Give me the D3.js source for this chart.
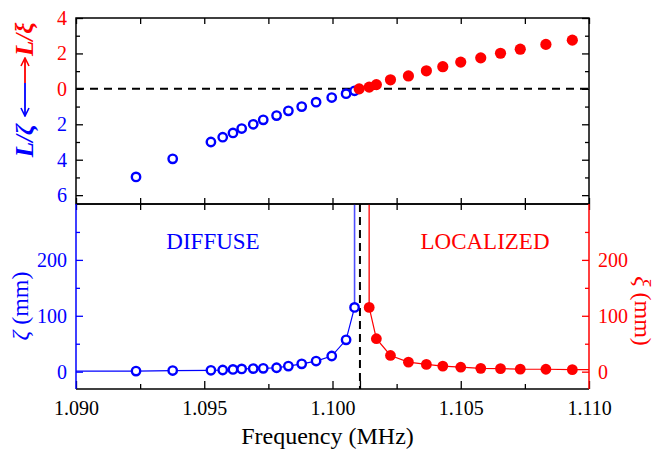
<!DOCTYPE html>
<html>
<head>
<meta charset="utf-8">
<script src="https://cdn.jsdelivr.net/npm/d3@7.9.0/dist/d3.min.js"></script>
<style>
  body { margin: 0; background: #fff; }
</style>
</head>
<body>
<svg id="chart" width="656" height="453"></svg>
<script>
// ---- data ----
const blueFreq = [1.09234, 1.09377, 1.09526, 1.09572, 1.09612, 1.09646, 1.09691, 1.09730,
                  1.09782, 1.09828, 1.09880, 1.09936, 1.09997, 1.10053, 1.10086];
const blueL = [4.97, 3.95, 3.0, 2.73, 2.49, 2.24, 2.0, 1.75, 1.51, 1.24, 1.0, 0.75, 0.49, 0.27, 0.11]; // L/zeta
const blueZeta = [1, 2, 2.5, 3, 4, 5, 5.5, 6, 7, 10, 14, 19, 28, 57, 115]; // mm

const redFreq = [1.10104, 1.10143, 1.10171, 1.10226, 1.10296, 1.10366, 1.10430, 1.10500,
                 1.10578, 1.10655, 1.10732, 1.10832, 1.10935];
const redL = [0, 0.1, 0.24, 0.51, 0.73, 1.02, 1.25, 1.51, 1.75, 2.01, 2.24, 2.51, 2.75]; // L/xi
const redXi = [null, 115, 59, 29, 17, 13, 10, 8, 6, 5.5, 4.5, 4.3, 3.6]; // mm (first is infinite)

const fc = 1.10107; // transition frequency
const xTicks = [1.090, 1.095, 1.100, 1.105, 1.110];
const topTicks = [4, 2, 0, -2, -4, -6];
const botTicks = [0, 100, 200];

const BLUE = "#0000ff", RED = "#ff0000";
const FONT = '"Liberation Serif", "Times New Roman", serif';

const svg = d3.select("#chart");
const L = 76, R = 589, T = 18, M = 204, B = 389;

const x = d3.scaleLinear().domain([1.090, 1.110]).range([L, R]);
const yTop = d3.scaleLinear().domain([-6.5, 4]).range([M, T]);
const yBot = d3.scaleLinear().domain([-31, 300]).range([B, M]);

const minorX = d3.range(1.0925, 1.110, 0.005);

function ticksOnly(g, axis, color) {
  g.call(axis);
  g.select(".domain").remove();
  g.selectAll("line").attr("stroke", color).attr("stroke-width", 1.3);
  g.selectAll("text").attr("font-size", 20).attr("fill", color);
}

// ---------- top panel ----------
svg.append("g").attr("transform", `translate(0,${T})`)
  .call(g => ticksOnly(g, d3.axisTop(x).tickValues(xTicks.concat(minorX)).tickSize(-6).tickFormat(""), "#000"));
svg.append("g").attr("transform", `translate(0,${M})`)
  .call(g => ticksOnly(g, d3.axisBottom(x).tickValues(xTicks.concat(minorX)).tickSize(-6).tickFormat(""), "#000"));

// left axis
const gTopLeft = svg.append("g").attr("transform", `translate(${L},0)`);
ticksOnly(gTopLeft, d3.axisLeft(yTop).tickValues(topTicks).tickSize(-7).tickPadding(9)
  .tickFormat(d => Math.abs(d)), "#000");
gTopLeft.selectAll("text").attr("fill", d => d >= 0 ? RED : BLUE);
svg.append("g").attr("transform", `translate(${L},0)`)
  .call(g => ticksOnly(g, d3.axisLeft(yTop).tickValues([3, 1, -1, -3, -5]).tickSize(-4).tickFormat(""), "#000"));
// right axis ticks
svg.append("g").attr("transform", `translate(${R},0)`)
  .call(g => ticksOnly(g, d3.axisRight(yTop).tickValues(topTicks).tickSize(-7).tickFormat(""), "#000"));
svg.append("g").attr("transform", `translate(${R},0)`)
  .call(g => ticksOnly(g, d3.axisRight(yTop).tickValues([3, 1, -1, -3, -5]).tickSize(-4).tickFormat(""), "#000"));

// zero dashed line
svg.append("line")
  .attr("x1", L).attr("x2", R).attr("y1", yTop(0)).attr("y2", yTop(0))
  .attr("stroke", "#000").attr("stroke-width", 2).attr("stroke-dasharray", "8,6");

// blue open circles (plotted downward)
svg.append("g").selectAll("circle")
  .data(blueFreq.map((f, i) => ({ f, v: -blueL[i] })))
  .join("circle")
  .attr("cx", d => x(d.f)).attr("cy", d => yTop(d.v)).attr("r", 4.2)
  .attr("fill", "none").attr("stroke", BLUE).attr("stroke-width", 2.4);

// red filled dots
svg.append("g").selectAll("circle")
  .data(redFreq.map((f, i) => ({ f, v: redL[i] })))
  .join("circle")
  .attr("cx", d => x(d.f)).attr("cy", d => yTop(d.v)).attr("r", 5.6)
  .attr("fill", RED);

// frame
svg.append("rect").attr("x", L).attr("y", T).attr("width", R - L).attr("height", M - T)
  .attr("fill", "none").attr("stroke", "#000").attr("stroke-width", 1.5);

// top y label: L/zeta <--> L/xi
const lab = svg.append("g").attr("transform", "translate(33,88) rotate(-90)");
lab.append("text").attr("x", -36).attr("text-anchor", "end")
  .attr("font-size", 25).attr("font-weight", "bold").attr("font-style", "italic")
  .attr("fill", BLUE).text("L/ζ");
lab.append("text").attr("x", 32).attr("text-anchor", "start")
  .attr("font-size", 25).attr("font-weight", "bold").attr("font-style", "italic")
  .attr("fill", RED).text("L/ξ");
const defs = svg.append("defs");
[["arrB", BLUE], ["arrR", RED]].forEach(([id, c]) => {
  defs.append("marker").attr("id", id).attr("viewBox", "0 0 10 10")
    .attr("refX", 9).attr("refY", 5).attr("markerWidth", 10).attr("markerHeight", 10)
    .attr("markerUnits", "userSpaceOnUse").attr("orient", "auto")
    .append("path").attr("d", "M1,1 L9,5 L1,9").attr("fill", "none").attr("stroke", c).attr("stroke-width", 1.6);
});
lab.append("line").attr("x1", 5).attr("x2", -28).attr("y1", -8).attr("y2", -8)
  .attr("stroke", BLUE).attr("stroke-width", 1.8).attr("marker-end", "url(#arrB)");
lab.append("line").attr("x1", 5).attr("x2", 30).attr("y1", -8).attr("y2", -8)
  .attr("stroke", RED).attr("stroke-width", 1.8).attr("marker-end", "url(#arrR)");

// ---------- bottom panel ----------
svg.append("g").attr("transform", `translate(0,${M})`)
  .call(g => ticksOnly(g, d3.axisTop(x).tickValues(xTicks.concat(minorX)).tickSize(-6).tickFormat(""), "#000"));

const gx = svg.append("g").attr("transform", `translate(0,${B})`);
ticksOnly(gx, d3.axisBottom(x).tickValues(xTicks.concat([fc])).tickSize(-8).tickPadding(12)
  .tickFormat(d => xTicks.includes(d) ? d3.format(".3f")(d) : ""), "#000");
svg.append("g").attr("transform", `translate(0,${B})`)
  .call(g => ticksOnly(g, d3.axisBottom(x).tickValues(minorX).tickSize(-5).tickFormat(""), "#000"));

const gl = svg.append("g").attr("transform", `translate(${L},0)`);
ticksOnly(gl, d3.axisLeft(yBot).tickValues(botTicks).tickSize(-7).tickPadding(9), BLUE);
svg.append("g").attr("transform", `translate(${L},0)`)
  .call(g => ticksOnly(g, d3.axisLeft(yBot).tickValues([50, 150, 250]).tickSize(-4).tickFormat(""), BLUE));
const gr = svg.append("g").attr("transform", `translate(${R},0)`);
ticksOnly(gr, d3.axisRight(yBot).tickValues(botTicks).tickSize(-7).tickPadding(9), RED);
svg.append("g").attr("transform", `translate(${R},0)`)
  .call(g => ticksOnly(g, d3.axisRight(yBot).tickValues([50, 150, 250]).tickSize(-4).tickFormat(""), RED));

// transition dashed line
svg.append("line")
  .attr("x1", x(fc)).attr("x2", x(fc)).attr("y1", M).attr("y2", B)
  .attr("stroke", "#000").attr("stroke-width", 2).attr("stroke-dasharray", "8,5");

const line = d3.line().x(d => x(d.f)).y(d => yBot(d.v));

// blue series
const bluePts = blueFreq.map((f, i) => ({ f, v: blueZeta[i] }));
svg.append("path")
  .datum([{ f: x.domain()[0], v: blueZeta[0] }].concat(bluePts))
  .attr("d", line).attr("fill", "none").attr("stroke", BLUE).attr("stroke-width", 1.2);
const lastB = bluePts[bluePts.length - 1];
svg.append("line")
  .attr("x1", x(lastB.f)).attr("x2", x(lastB.f)).attr("y1", yBot(lastB.v)).attr("y2", yBot(yBot.domain()[1]))
  .attr("stroke", "#5050ff").attr("stroke-width", 1.6);
svg.append("g").selectAll("circle").data(bluePts).join("circle")
  .attr("cx", d => x(d.f)).attr("cy", d => yBot(d.v)).attr("r", 4.2)
  .attr("fill", "#fff").attr("stroke", BLUE).attr("stroke-width", 2.4);

// red series
const redPts = redFreq.map((f, i) => ({ f, v: redXi[i] })).filter(d => d.v !== null);
svg.append("path")
  .datum(redPts.concat([{ f: x.domain()[1], v: redPts[redPts.length - 1].v }]))
  .attr("d", line).attr("fill", "none").attr("stroke", RED).attr("stroke-width", 1.2);
const firstR = redPts[0];
svg.append("line")
  .attr("x1", x(firstR.f)).attr("x2", x(firstR.f)).attr("y1", yBot(firstR.v)).attr("y2", yBot(yBot.domain()[1]))
  .attr("stroke", "#ff3030").attr("stroke-width", 1.6);
svg.append("g").selectAll("circle").data(redPts).join("circle")
  .attr("cx", d => x(d.f)).attr("cy", d => yBot(d.v)).attr("r", 5.4)
  .attr("fill", RED);

// frame lines
svg.append("line").attr("x1", L).attr("x2", R).attr("y1", M).attr("y2", M).attr("stroke", "#000").attr("stroke-width", 1.5);
svg.append("line").attr("x1", L).attr("x2", R).attr("y1", B).attr("y2", B).attr("stroke", "#000").attr("stroke-width", 1.5);
svg.append("line").attr("x1", L).attr("x2", L).attr("y1", M).attr("y2", B).attr("stroke", BLUE).attr("stroke-width", 1.5);
svg.append("line").attr("x1", R).attr("x2", R).attr("y1", M).attr("y2", B).attr("stroke", RED).attr("stroke-width", 1.5);

// annotations
svg.append("text").attr("x", 213).attr("y", 249).attr("text-anchor", "middle")
  .attr("font-size", 23).attr("fill", BLUE).text("DIFFUSE");
svg.append("text").attr("x", 485).attr("y", 249).attr("text-anchor", "middle")
  .attr("font-size", 23).attr("fill", RED).text("LOCALIZED");

// axis titles
svg.append("text").attr("x", (L + R) / 2 - 5).attr("y", 444).attr("text-anchor", "middle")
  .attr("font-size", 24).attr("fill", "#000").text("Frequency (MHz)");

const ly = svg.append("text").attr("transform", "translate(28,306) rotate(-90)")
  .attr("text-anchor", "middle").attr("font-size", 24).attr("fill", BLUE);
ly.append("tspan").attr("font-style", "italic").text("ζ");
ly.append("tspan").text(" (mm)");

const ry = svg.append("text").attr("transform", "translate(635,311) rotate(90)")
  .attr("text-anchor", "middle").attr("font-size", 24).attr("fill", RED);
ry.append("tspan").attr("font-style", "italic").text("ξ");
ry.append("tspan").text(" (mm)");

// serif everywhere (inline style beats the axis' sans-serif attribute)
svg.selectAll("text").style("font-family", FONT);
</script>
</body>
</html>
